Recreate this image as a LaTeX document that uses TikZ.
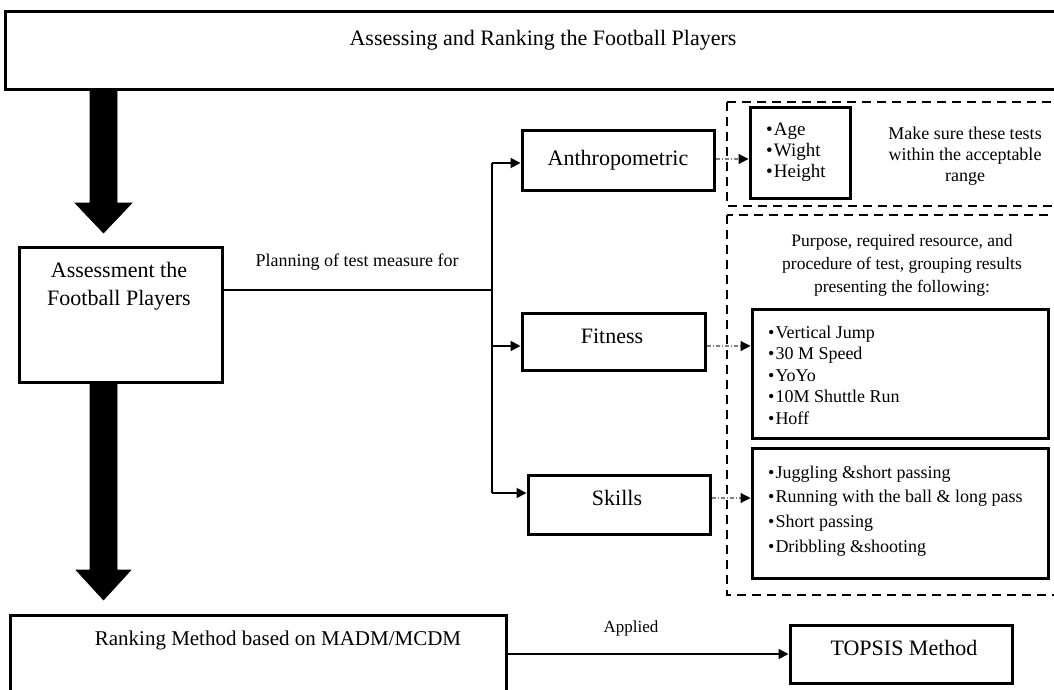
\documentclass[tikz,border=0pt]{standalone}
\usepackage{fontspec}
\setmainfont{Liberation Serif}
\usetikzlibrary{arrows.meta}
\begin{document}
\begin{tikzpicture}[x=1pt,y=-1pt,
  box/.style={draw, line width=3pt, inner sep=0pt, align=center},
  dbox/.style={draw, line width=2.2pt, dash pattern=on 9pt off 6pt},
  conn/.style={line width=1.8pt, -{Triangle[length=10pt,width=10pt]}},
  dotarr/.style={gray, line width=1.2pt, dash pattern=on 4pt off 2pt on 1pt off 2pt, -{Triangle[black,length=10pt,width=10pt]}},
  fat/.style={fill=black, draw=black, line width=0.6pt},
  lst/.style={align=left, font=\fontsize{18}{22}\selectfont, inner sep=0pt, anchor=west}
]
\useasboundingbox (0,0) rectangle (1054,690);
\clip (0,0) rectangle (1054,690);
\fill[white] (0,0) rectangle (1054,690);

% top box
\node[box, minimum width=1065pt, minimum height=78pt] (top) at (537.5,51) {};
\node[font=\fontsize{22}{26}\selectfont] (toptxt) at (543,40) {Assessing and Ranking the Football Players};

% big arrows
\fill[fat] (90,90) -- (117,90) -- (117,203) -- (132,203) -- (103.5,233) -- (75,203) -- (90,203) -- cycle;

% assessment box
\node[box, minimum width=203pt, minimum height=135pt] (assess) at (120.5,314.5) {};
\node[font=\fontsize{22}{28}\selectfont, align=center] (assesstxt) at (119,286) {Assessment the\\Football Players};

\fill[fat] (90,382) -- (117,382) -- (117,570) -- (131,570) -- (103.5,600) -- (76,570) -- (90,570) -- cycle;

% branch
\coordinate (br) at (492,290);
\draw[line width=1.8pt] (assess.east |- br) -- (br);
\node[font=\fontsize{18}{22}\selectfont] (plan) at (357,262) {Planning of test measure for};

% category boxes
\node[box, minimum width=192pt, minimum height=59pt, font=\fontsize{22}{25}\selectfont] (anth) at (618,160.5) {Anthropometric};
\node[box, minimum width=183pt, minimum height=57pt] (fit) at (613.5,341.5) {};
\node[font=\fontsize{22}{25}\selectfont] (fittxt) at (612,336) {Fitness};
\node[box, minimum width=182pt, minimum height=59pt] (skill) at (619,504.5) {};
\node[font=\fontsize{22}{25}\selectfont] (skilltxt) at (617,498) {Skills};

\coordinate (brtop) at (492,163);
\coordinate (brbot) at (492,493);
\draw[line width=1.8pt] (brtop) -- (brbot);
\draw[conn] (brtop) -- (anth.west |- brtop);
\draw[conn] (492,346) -- (fit.west |- 0,346);
\draw[conn] (brbot) -- (skill.west |- brbot);

% dashed groups
\draw[dbox] (727,102) rectangle (1070,206);
\draw[dbox] (727,215) rectangle (1070,595);

\node[box, minimum width=100pt, minimum height=90pt] (l1) at (800,153) {};
\node[lst, font=\fontsize{19}{21}\selectfont] (l1txt) at (766,152.5) {\textbullet\kern1pt Age\\\textbullet\kern1pt Wight\\\textbullet\kern1pt Height};
\node[align=center, font=\fontsize{18}{21}\selectfont] (note1) at (965,156) {Make sure these tests\\within the acceptable\\range};

\node[align=center, font=\fontsize{17.5}{23}\selectfont] (note2) at (902,265) {Purpose, required resource, and\\procedure of test, grouping results\\presenting the following:};

\node[box, minimum width=296pt, minimum height=129pt] (l2) at (900,373.5) {};
\node[lst, font=\fontsize{18}{21.5}\selectfont] (l2txt) at (768,375) {\textbullet\kern1pt Vertical Jump\\\textbullet\kern1pt 30 M Speed\\\textbullet\kern1pt YoYo\\\textbullet\kern1pt 10M Shuttle Run\\\textbullet\kern1pt Hoff};

\node[box, minimum width=296pt, minimum height=130pt] (l3) at (900,513) {};
\node[lst, font=\fontsize{18}{24.7}\selectfont] (l3txt) at (768,511) {\textbullet\kern1pt Juggling \&short passing\\\textbullet\kern1pt Running with the ball \& long pass\\\textbullet\kern1pt Short passing\\\textbullet\kern1pt Dribbling \&shooting};

\draw[dotarr] (anth.east |- 0,159) -- (l1.west |- 0,159);
\draw[dotarr] (fit.east |- 0,346) -- (l2.west |- 0,346);
\draw[dotarr] (skill.east |- 0,498) -- (l3.west |- 0,498);

% bottom
\node[box, minimum width=496pt, minimum height=85pt] (rank) at (258,657.5) {};
\node[font=\fontsize{21}{25}\selectfont] (ranktxt) at (278,640) {Ranking Method based on MADM/MCDM};
\node[box, minimum width=222pt, minimum height=58pt] (topsis) at (901,654) {};
\node[font=\fontsize{22}{26}\selectfont] (topsistxt) at (904,648) {TOPSIS Method};
\draw[conn] (rank.east |- topsis.west) -- (topsis.west);
\node[font=\fontsize{17}{20}\selectfont] (applied) at (631,628) {Applied};
\end{tikzpicture}
\end{document}
